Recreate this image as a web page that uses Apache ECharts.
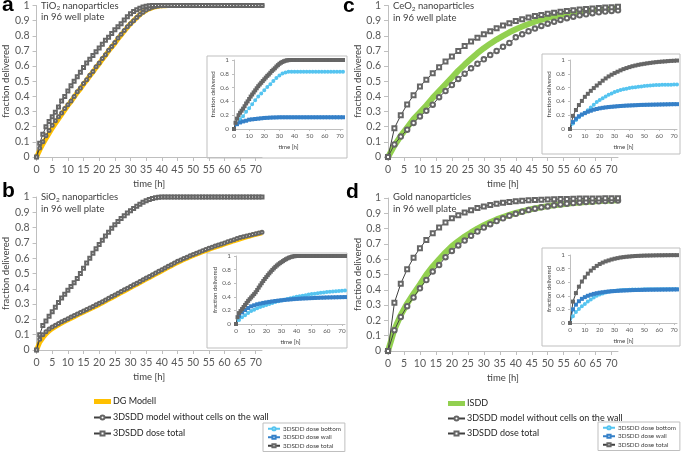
<!DOCTYPE html>
<html><head><meta charset="utf-8">
<script src="https://cdn.jsdelivr.net/npm/echarts@6/dist/echarts.min.js"></script>
<style>html,body{margin:0;padding:0;background:#fff}#c{width:685px;height:453px}</style>
</head><body><div id="c"></div>
<script>
// sample times
const hours = []; for (let t = 0; t <= 72; t++) hours.push(t);
const hours2 = []; for (let t = 0; t <= 72; t += 2) hours2.push(t);
const mainXTicks = [0,5,10,15,20,25,30,35,40,45,50,55,60,65,70];
const insetXTicks = [0,10,20,30,40,50,60,70];

// ---- panel a (TiO2), hourly ----
const a_dg = [0,0.045,0.085,0.12,0.155,0.19,0.22,0.25,0.28,0.31,0.34,0.365,0.395,0.425,0.45,0.48,0.505,0.535,0.56,0.59,0.615,0.645,0.67,0.7,0.725,0.75,0.78,0.805,0.83,0.855,0.88,0.9,0.92,0.94,0.955,0.968,0.978,0.986,0.992,0.996,0.998,0.999,1,1,1,1,1,1,1,1,1,1,1,1,1,1,1,1,1,1,1,1,1,1,1,1,1,1,1,1,1,1,1];
const a_nocell = [0,0.06,0.1,0.14,0.175,0.21,0.24,0.265,0.29,0.32,0.345,0.37,0.4,0.43,0.455,0.485,0.51,0.54,0.565,0.595,0.62,0.65,0.675,0.705,0.73,0.755,0.785,0.81,0.835,0.86,0.88,0.9,0.92,0.94,0.955,0.97,0.98,0.988,0.994,0.997,0.999,1,1,1,1,1,1,1,1,1,1,1,1,1,1,1,1,1,1,1,1,1,1,1,1,1,1,1,1,1,1,1,1];
const a_total = [0,0.09,0.15,0.2,0.235,0.265,0.295,0.33,0.37,0.4,0.435,0.47,0.5,0.53,0.56,0.59,0.62,0.645,0.67,0.695,0.72,0.745,0.77,0.79,0.815,0.84,0.86,0.88,0.905,0.925,0.945,0.96,0.972,0.982,0.99,0.995,0.998,1,1,1,1,1,1,1,1,1,1,1,1,1,1,1,1,1,1,1,1,1,1,1,1,1,1,1,1,1,1,1,1,1,1,1,1];
// inset a, every 2 h
const a_bottom = [0,0.08,0.14,0.185,0.25,0.3,0.36,0.415,0.47,0.515,0.56,0.61,0.65,0.695,0.74,0.777,0.803,0.82,0.828,0.83,0.83,0.83,0.83,0.83,0.83,0.83,0.83,0.83,0.83,0.83,0.83,0.83,0.83,0.83,0.83,0.83,0.83];
const a_wall = [0,0.07,0.095,0.11,0.12,0.135,0.14,0.145,0.15,0.155,0.16,0.162,0.165,0.167,0.168,0.17,0.17,0.17,0.17,0.17,0.17,0.17,0.17,0.17,0.17,0.17,0.17,0.17,0.17,0.17,0.17,0.17,0.17,0.17,0.17,0.17,0.17];

// ---- panel b (SiO2), hourly ----
const b_dg = [0,0.05,0.08,0.105,0.125,0.14,0.153,0.165,0.176,0.187,0.198,0.208,0.218,0.228,0.238,0.248,0.258,0.268,0.278,0.288,0.298,0.309,0.32,0.331,0.342,0.353,0.364,0.375,0.386,0.397,0.408,0.419,0.43,0.441,0.452,0.463,0.474,0.485,0.496,0.507,0.518,0.529,0.54,0.551,0.562,0.572,0.582,0.591,0.6,0.609,0.618,0.626,0.634,0.642,0.65,0.658,0.665,0.672,0.679,0.686,0.693,0.7,0.707,0.714,0.72,0.727,0.733,0.739,0.745,0.751,0.756,0.761,0.766];
const b_nocell = [0,0.07,0.1,0.12,0.137,0.15,0.162,0.173,0.184,0.195,0.205,0.215,0.225,0.235,0.245,0.255,0.265,0.275,0.285,0.295,0.305,0.316,0.327,0.338,0.349,0.36,0.371,0.382,0.393,0.404,0.415,0.426,0.437,0.448,0.459,0.47,0.481,0.492,0.503,0.514,0.525,0.536,0.547,0.558,0.569,0.58,0.589,0.598,0.607,0.616,0.625,0.633,0.641,0.649,0.657,0.665,0.672,0.679,0.686,0.693,0.7,0.707,0.714,0.721,0.728,0.735,0.74,0.745,0.75,0.755,0.76,0.765,0.77];
const b_total = [0,0.1,0.16,0.19,0.22,0.25,0.28,0.31,0.34,0.365,0.39,0.415,0.44,0.467,0.5,0.535,0.568,0.6,0.632,0.662,0.69,0.718,0.745,0.77,0.795,0.818,0.84,0.86,0.878,0.895,0.91,0.925,0.94,0.953,0.965,0.975,0.983,0.99,0.995,0.998,1,1,1,1,1,1,1,1,1,1,1,1,1,1,1,1,1,1,1,1,1,1,1,1,1,1,1,1,1,1,1,1,1];
const b_bottom = [0,0.06,0.1,0.13,0.16,0.19,0.21,0.23,0.25,0.265,0.28,0.295,0.31,0.322,0.334,0.345,0.357,0.369,0.38,0.39,0.4,0.408,0.416,0.424,0.432,0.44,0.446,0.452,0.458,0.464,0.47,0.474,0.478,0.482,0.486,0.49,0.494];
const b_wall = [0,0.12,0.17,0.205,0.235,0.26,0.275,0.29,0.3,0.31,0.318,0.325,0.332,0.338,0.344,0.349,0.354,0.358,0.362,0.366,0.369,0.372,0.375,0.377,0.379,0.381,0.383,0.385,0.387,0.388,0.39,0.391,0.392,0.393,0.394,0.395,0.396];

// ---- panel c (CeO2), every 2 h ----
const c_isdd = [0,0.075,0.14,0.195,0.25,0.295,0.34,0.39,0.435,0.48,0.525,0.57,0.61,0.648,0.685,0.718,0.748,0.775,0.8,0.823,0.843,0.861,0.878,0.893,0.906,0.918,0.928,0.937,0.945,0.952,0.958,0.963,0.968,0.972,0.976,0.979,0.982];
const c_nocell = [0,0.083,0.135,0.18,0.225,0.268,0.305,0.345,0.395,0.435,0.475,0.515,0.55,0.585,0.615,0.645,0.673,0.7,0.727,0.753,0.79,0.81,0.83,0.848,0.865,0.88,0.893,0.905,0.916,0.926,0.935,0.942,0.949,0.955,0.96,0.964,0.968];
const c_total = [0,0.19,0.275,0.347,0.407,0.466,0.51,0.553,0.593,0.63,0.664,0.7,0.733,0.762,0.787,0.81,0.83,0.85,0.868,0.883,0.897,0.91,0.92,0.93,0.938,0.945,0.952,0.958,0.964,0.969,0.973,0.977,0.98,0.984,0.987,0.989,0.992];
const c_bottom = [0,0.08,0.13,0.17,0.205,0.235,0.27,0.31,0.35,0.39,0.42,0.445,0.47,0.495,0.515,0.535,0.55,0.565,0.575,0.585,0.595,0.6,0.606,0.612,0.617,0.622,0.626,0.63,0.633,0.636,0.638,0.64,0.641,0.642,0.643,0.644,0.645];
const c_wall = [0,0.1,0.15,0.185,0.21,0.23,0.25,0.265,0.28,0.29,0.3,0.307,0.313,0.318,0.322,0.326,0.33,0.333,0.336,0.339,0.341,0.343,0.345,0.347,0.349,0.35,0.351,0.352,0.353,0.354,0.355,0.356,0.357,0.358,0.359,0.36,0.36];

// ---- panel d (Gold), every 2 h ----
const d_isdd = [0,0.14,0.235,0.31,0.375,0.435,0.5,0.553,0.6,0.645,0.685,0.718,0.748,0.775,0.8,0.822,0.842,0.86,0.876,0.89,0.902,0.913,0.923,0.932,0.94,0.947,0.953,0.958,0.963,0.967,0.971,0.974,0.977,0.98,0.982,0.984,0.986];
const d_nocell = [0,0.136,0.223,0.293,0.35,0.41,0.464,0.519,0.562,0.613,0.654,0.69,0.722,0.753,0.781,0.807,0.829,0.849,0.867,0.884,0.897,0.91,0.921,0.93,0.939,0.945,0.952,0.958,0.963,0.967,0.971,0.974,0.976,0.978,0.98,0.982,0.984];
const d_total = [0,0.315,0.44,0.534,0.61,0.672,0.726,0.77,0.807,0.84,0.867,0.888,0.906,0.92,0.934,0.945,0.954,0.963,0.969,0.974,0.978,0.982,0.985,0.987,0.989,0.991,0.992,0.993,0.994,0.995,0.996,0.996,0.997,0.997,0.998,0.998,0.998];
const d_bottom = [0,0.1,0.16,0.205,0.245,0.28,0.315,0.345,0.375,0.4,0.42,0.435,0.448,0.458,0.466,0.472,0.477,0.481,0.484,0.487,0.489,0.491,0.492,0.493,0.494,0.495,0.495,0.496,0.496,0.497,0.497,0.497,0.498,0.498,0.498,0.498,0.498];
const d_wall = [0,0.2,0.27,0.32,0.355,0.38,0.4,0.415,0.428,0.438,0.446,0.452,0.458,0.463,0.467,0.47,0.473,0.476,0.478,0.48,0.482,0.484,0.485,0.486,0.487,0.488,0.489,0.49,0.49,0.491,0.491,0.492,0.492,0.493,0.493,0.494,0.494];

const F = 'Lato, "Open Sans", sans-serif';
const AX = '#bfbfbf', LAB = '#595959', TXT = '#404040';
const C_DG = '#FFC000', C_ISDD = '#92D050', C_BOT = '#55C4F0', C_WALL = '#3580C8', C_BLK = '#404040', C_MK = '#666666';

function pts(ts, vs) { return ts.map((t, i) => [t, vs[i]]); }

const grids = [
  {left:34, top:4, width:228, height:153},
  {left:34, top:197, width:228, height:153},
  {left:388, top:5, width:230, height:152},
  {left:388, top:198, width:230, height:153},
  {left:234, top:60, width:109, height:69},
  {left:236, top:256, width:109, height:68},
  {left:570, top:60, width:107, height:69},
  {left:570, top:255, width:107, height:68}
];

function xAx(i, inset) {
  return {type:'value', gridIndex:i, min:0, max:72,
    name:'time [h]', nameLocation:'middle', nameGap: inset ? 15 : 22,
    nameTextStyle:{fontSize: inset ? 6 : 9.5, color:TXT, fontFamily:F},
    axisLine:{show:true, lineStyle:{color:AX, width:1}},
    axisTick:{show:true, length: inset ? 2 : 4, lineStyle:{color:AX}, customValues: inset ? insetXTicks : mainXTicks},
    axisLabel:{fontSize: inset ? 6.3 : 10.5, color:LAB, margin: inset ? 4 : 7, fontFamily:F, customValues: inset ? insetXTicks : mainXTicks},
    splitLine:{show:false}};
}
function yAx(i, inset) {
  return {type:'value', gridIndex:i, min:0, max:1, interval: inset ? 0.2 : 0.1,
    name:'fraction delivered', nameLocation:'middle', nameGap: inset ? 14 : 21,
    nameTextStyle:{fontSize: inset ? 6 : 9.5, color:TXT, fontFamily:F},
    axisLine:{show:true, lineStyle:{color:AX, width:1}},
    axisTick:{show:true, length: inset ? 2 : 4, lineStyle:{color:AX}},
    axisLabel:{fontSize: inset ? 6.3 : 10.5, color:LAB, margin: inset ? 5 : 7, fontFamily:F},
    splitLine:{show:false}};
}

function ser(name, ai, ts, vs, kind, big) {
  const s = {type:'line', name, xAxisIndex:ai, yAxisIndex:ai, data:pts(ts, vs), animation:false, silent:true};
  if (kind === 'dg') Object.assign(s, {symbol:'none', lineStyle:{width:5, color:C_DG}, itemStyle:{color:C_DG}});
  if (kind === 'isdd') Object.assign(s, {symbol:'none', lineStyle:{width:6, color:C_ISDD}, itemStyle:{color:C_ISDD}});
  if (kind === 'circ') Object.assign(s, {symbol:'emptyCircle', symbolSize: big ? 4.5 : 3, lineStyle:{width:1, color:C_BLK}, itemStyle:{color:C_MK, borderWidth:0.8}});
  if (kind === 'sq') Object.assign(s, {symbol:'emptyRect', symbolSize: big ? 4 : 3, lineStyle:{width:1, color:C_BLK}, itemStyle:{color:C_MK, borderWidth:0.8}});
  if (kind === 'ibot') Object.assign(s, {symbol:'emptyCircle', symbolSize:2, lineStyle:{width:1, color:C_BOT}, itemStyle:{color:C_BOT, borderWidth:0.7}});
  if (kind === 'iwall') Object.assign(s, {symbol:'emptyRect', symbolSize:2, lineStyle:{width:1, color:C_WALL}, itemStyle:{color:C_WALL, borderWidth:0.7}});
  if (kind === 'itot') Object.assign(s, {symbol:'emptyRect', symbolSize:2, lineStyle:{width:1, color:C_BLK}, itemStyle:{color:C_MK, borderWidth:0.7}});
  return s;
}

const N_DG = 'DG Modell', N_ISDD = 'ISDD', N_NC = '3DSDD model without cells on the wall', N_TOT = '3DSDD dose total', N_BOT = '3DSDD dose bottom', N_WALL = '3DSDD dose wall';

const series = [
  ser(N_DG, 0, hours, a_dg, 'dg'), ser(N_NC, 0, hours, a_nocell, 'circ'), ser(N_TOT, 0, hours, a_total, 'sq'),
  ser(N_DG, 1, hours, b_dg, 'dg'), ser(N_NC, 1, hours, b_nocell, 'circ'), ser(N_TOT, 1, hours, b_total, 'sq'),
  ser(N_ISDD, 2, hours2, c_isdd, 'isdd'), ser(N_NC, 2, hours2, c_nocell, 'circ', true), ser(N_TOT, 2, hours2, c_total, 'sq', true),
  ser(N_ISDD, 3, hours2, d_isdd, 'isdd'), ser(N_NC, 3, hours2, d_nocell, 'circ', true), ser(N_TOT, 3, hours2, d_total, 'sq', true),
  ser(N_BOT, 4, hours2, a_bottom, 'ibot'), ser(N_WALL, 4, hours2, a_wall, 'iwall'), ser(N_TOT, 4, hours, a_total, 'itot'),
  ser(N_BOT, 5, hours2, b_bottom, 'ibot'), ser(N_WALL, 5, hours2, b_wall, 'iwall'), ser(N_TOT, 5, hours, b_total, 'itot'),
  ser(N_BOT, 6, hours2, c_bottom, 'ibot'), ser(N_WALL, 6, hours2, c_wall, 'iwall'), ser(N_TOT, 6, hours2, c_total, 'itot'),
  ser(N_BOT, 7, hours2, d_bottom, 'ibot'), ser(N_WALL, 7, hours2, d_wall, 'iwall'), ser(N_TOT, 7, hours2, d_total, 'itot')
];

function bigLegend(left, top, first, gap) {
  return {left, top, orient:'vertical', selectedMode:false, itemWidth:17, itemHeight:5, itemGap:gap,
    textStyle:{fontSize:9, lineHeight:11, color:'#262626', fontFamily:F, padding:[0,0,0,-3]},
    data:[{name:first, icon:'rect'}, N_NC, N_TOT]};
}
function smallLegend(left, top) {
  return {left, top, orient:'vertical', selectedMode:false, itemWidth:12, itemHeight:4, itemGap:1,
    padding:[2,4,2,4], borderColor:'#bfbfbf', borderWidth:1, height:30,
    textStyle:{fontSize:6.3, lineHeight:7.5, color:'#404040', fontFamily:F, padding:[0,0,0,-2]},
    data:[N_BOT, N_WALL, N_TOT]};
}

function box(x, y, w, h) {
  return {type:'rect', z:-5, shape:{x, y, width:w, height:h}, style:{fill:'#fff', stroke:'#bfbfbf', lineWidth:1}};
}
function letter(ch, x, y) {
  return {type:'text', x, y, z:10, style:{text:ch, font:'bold 21px "Liberation Sans", Arial, sans-serif', fill:'#000', verticalAlign:'middle'}};
}
function note(mat, sub, x, y) {
  const rich = {
    n:{fontSize:9.5, lineHeight:11.5, fontFamily:F, fill:TXT, verticalAlign:'middle'},
    s:{fontSize:6.5, lineHeight:6, fontFamily:F, fill:TXT, verticalAlign:'bottom'}
  };
  const first = sub ? '{n|' + mat + '}{s|' + sub + '}{n| nanoparticles}' : '{n|' + mat + ' nanoparticles}';
  return {type:'text', x, y, z:10, style:{text: first + '\n{n|in 96 well plate}', rich}};
}

const option = {
  backgroundColor:'#fff',
  textStyle:{fontFamily:F},
  animation:false,
  grid: grids,
  xAxis: grids.map((g, i) => xAx(i, i >= 4)),
  yAxis: grids.map((g, i) => yAx(i, i >= 4)),
  legend: [bigLegend(88, 391, N_DG, 5), bigLegend(442, 393, N_ISDD, 4), smallLegend(263, 423), smallLegend(598, 422)],
  graphic: {elements: [
    box(207, 56, 140, 102), box(207, 253, 140, 95), box(542, 54, 138, 100), box(542, 248, 138, 98),
    letter('a', 2, 5), letter('b', 2, 191), letter('c', 343, 6), letter('d', 346, 192),
    note('TiO', '2', 41, 0), note('SiO', '2', 41, 191.5), note('CeO', '2', 393, 0.5), note('Gold', '', 393, 191.5)
  ]},
  series
};

const chart = echarts.init(document.getElementById('c'), null, {renderer:'canvas'});
chart.setOption(option);
</script>
</body></html>
